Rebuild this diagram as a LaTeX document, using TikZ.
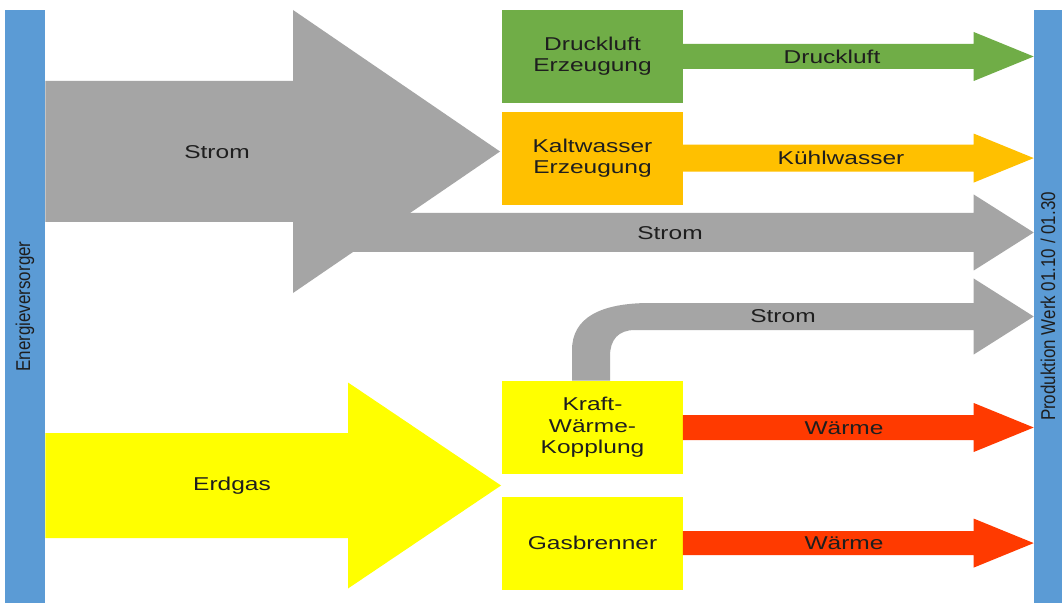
\documentclass[tikz,border=0pt]{standalone}
\usepackage{fontspec}
\setmainfont{Liberation Sans}[FakeStretch=1.32]
\newfontfamily\hochfont{Liberation Sans}[FakeStretch=0.85]
\usetikzlibrary{positioning, calc}
\definecolor{balken}{RGB}{91,155,213}
\definecolor{grau}{RGB}{165,165,165}
\definecolor{gruen}{RGB}{112,173,71}
\definecolor{orange}{RGB}{255,192,0}
\definecolor{gelb}{RGB}{255,255,0}
\definecolor{rot}{RGB}{255,58,0}
\definecolor{txt}{RGB}{30,30,30}
\newcommand{\flowfont}{\fontsize{13.2pt}{15.2pt}\selectfont}
% block arrow: fill, tail, tip, half shaft, half head, head length
\newcommand{\blockpfeil}[6]{%
  \fill[#1] ($(#2)+(0,-#4)$) -- ($(#3)+(-#6,-#4)$) -- ($(#3)+(-#6,-#5)$) -- (#3)
    -- ($(#3)+(-#6,#5)$) -- ($(#3)+(-#6,#4)$) -- ($(#2)+(0,#4)$) -- cycle;}
\tikzset{
  bar/.style={
    rectangle, fill=balken, rotate=90,
    minimum width=14.825cm, inner sep=0pt,
    font=\hochfont\fontsize{14.2pt}{16pt}\selectfont, text=txt
  },
  procbox/.style={
    rectangle, minimum width=4.5cm, minimum height=2.325cm,
    align=center, inner sep=2pt, font=\flowfont, text=txt
  },
  flowlabel/.style={font=\flowfont, text=txt, inner sep=0pt}
}

\begin{document}
\begin{tikzpicture}[x=0.025cm, y=-0.025cm, node distance=0.2cm]
  \fill[white] (0,0) rectangle (1064,603);
  \useasboundingbox (0,0) rectangle (1064,603);

  \node[bar, minimum height=1cm] (versorger) at (25,306.5) {Energieversorger};
  \node[bar, minimum height=0.7cm] (werk) at (1048,306.5) {Produktion Werk 01.10 / 01.30};

  \coordinate (s1a) at (versorger.south |- 0,151.5);
  \coordinate (s1b) at (500,151.5);
  \coordinate (s2a) at (293,232.5);
  \coordinate (s2b) at (werk.north |- s2a);
  \coordinate (s3b) at (werk.north |- 0,316.5);
  \coordinate (ga) at (versorger.south |- 0,485.5);
  \coordinate (gb) at (501,485.5);

  \blockpfeil{grau}{s2a}{s2b}{19.5}{38}{60}
  \blockpfeil{grau}{s1a}{s1b}{70.5}{141.5}{207}
  \blockpfeil{gelb}{ga}{gb}{52.5}{103}{153}

  \node[procbox, fill=gruen] (druck) at (592.5,56.5) {Druckluft\\Erzeugung};
  \node[procbox, fill=orange, below=of druck] (kalt) {Kaltwasser\\Erzeugung};
  \node[procbox, fill=gelb] (kwk) at (592.5,427.5) {Kraft-\\Wärme-\\Kopplung};
  \node[procbox, fill=gelb, below=0.55cm of kwk] (gas) {Gasbrenner};

  \coordinate (d2) at (werk.north |- druck.east);
  \coordinate (k2) at (werk.north |- kalt.east);
  \coordinate (w1) at (werk.north |- kwk.east);
  \coordinate (w2) at (werk.north |- gas.east);

  \blockpfeil{gruen}{druck.east}{d2}{12.5}{24.5}{60}
  \blockpfeil{orange}{kalt.east}{k2}{13.5}{24.5}{60}
  \blockpfeil{rot}{kwk.east}{w1}{12.5}{24.5}{60}
  \blockpfeil{rot}{gas.east}{w2}{12}{24.5}{60}

  % Strom aus der KWK, mit Bogen nach oben
  \fill[grau] ($(kwk.north)+(-20.5,0)$) -- (572,350)
    .. controls (572,318) and (600,303) .. (650,303)
    -- ($(s3b)+(-60,-13.5)$) -- ($(s3b)+(-60,-38)$) -- (s3b)
    -- ($(s3b)+(-60,38)$) -- ($(s3b)+(-60,13.5)$) -- (635,330)
    .. controls (618,330) and (610,340) .. (610,356)
    -- ($(kwk.north)+(17.5,0)$) -- cycle;

  \node[flowlabel] (lstrom1) at (217,152) {Strom};
  \node[flowlabel] (lstrom2) at (670,233) {Strom};
  \node[flowlabel] (lstrom3) at (783,316) {Strom};
  \node[flowlabel] (lerdgas) at (232,486) {Erdgas};
  \node[flowlabel] (ldruck) at (832,56.5) {Druckluft};
  \node[flowlabel] (lkuehl) at (841,157.5) {Kühlwasser};
  \node[flowlabel] (lwaerme1) at (844,428.5) {Wärme};
  \node[flowlabel] (lwaerme2) at (844,543) {Wärme};
\end{tikzpicture}
\end{document}
